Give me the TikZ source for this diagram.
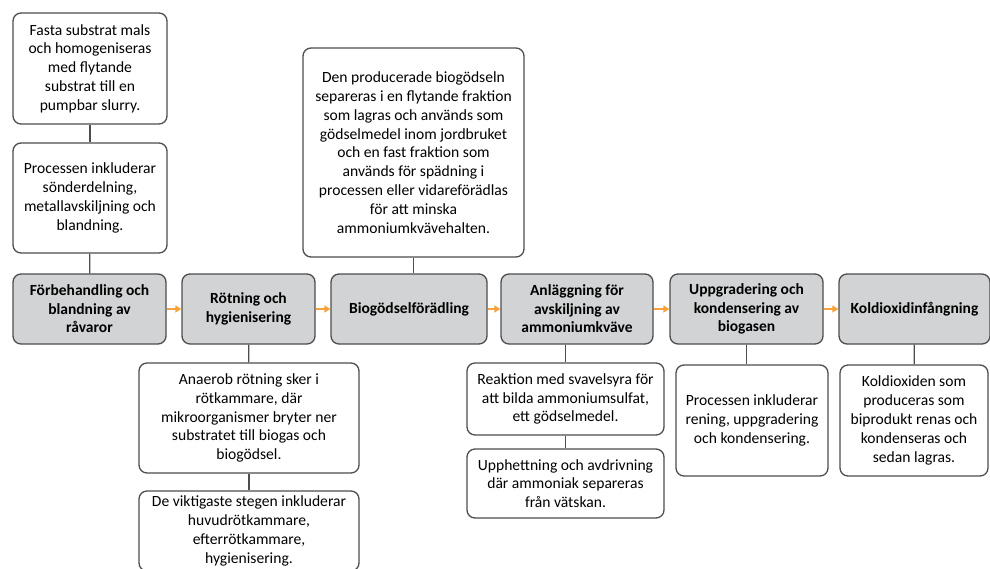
\documentclass[tikz,border=0pt]{standalone}
\usepackage{fontspec}
\setmainfont{Carlito}
\usetikzlibrary{arrows.meta}
\definecolor{stagegray}{HTML}{D1D3D4}
\definecolor{boxline}{HTML}{4D4D4F}
\definecolor{flowline}{HTML}{F7A23B}
\begin{document}
\begin{tikzpicture}[
        x=1pt, y=-1pt,
        stage/.style={rectangle, draw=boxline, line width=1.3pt, fill=stagegray, rounded corners=8pt, align=center, inner sep=0pt, font=\bfseries\fontsize{15.5}{18.6}\selectfont},
        note/.style={rectangle, draw=boxline, line width=1.3pt, fill=white, rounded corners=8pt, align=center, inner sep=0pt, font=\fontsize{15.6}{18.8}\selectfont},
        link/.style={draw=boxline, line width=1.3pt},
        flow/.style={draw=flowline, line width=1.3pt, -{Triangle[length=6pt,width=7pt]}}
    ]
        \useasboundingbox (0,0) rectangle (990,568);

        % Main chain
        \node[stage, minimum width=153, minimum height=70] (main_pre) at (89.5,309) {Förbehandling och\\blandning av\\råvaror};
        \node[stage, minimum width=133, minimum height=70] (main_rot) at (248.5,309) {Rötning och\\hygienisering};
        \node[stage, minimum width=156, minimum height=70] (main_bio) at (409,309) {Biogödselförädling};
        \node[stage, minimum width=152, minimum height=70] (main_amm) at (577,309) {Anläggning för\\avskiljning av\\ammoniumkväve};
        \node[stage, minimum width=153, minimum height=70] (main_upp) at (746.5,309) {Uppgradering och\\kondensering av\\biogasen};
        \node[stage, minimum width=151, minimum height=70] (main_co2) at (914.5,309) {Koldioxidinfångning};
        \draw[flow] (main_pre) -- (main_rot);
        \draw[flow] (main_rot) -- (main_bio);
        \draw[flow] (main_bio) -- (main_amm);
        \draw[flow] (main_amm) -- (main_upp);
        \draw[flow] (main_upp) -- (main_co2);

        % Notes above
        \node[note, minimum width=154, minimum height=111] (pre_note1) at (90,68.5) {Fasta substrat mals\\och homogeniseras\\med flytande\\substrat till en\\pumpbar slurry.};
        \node[note, minimum width=154, minimum height=110] (pre_note2) at (90,198) {Processen inkluderar\\sönderdelning,\\metallavskiljning och\\blandning.};
        \node[note, minimum width=221, minimum height=209] (bio_note) at (413.5,152.5) {Den producerade biogödseln\\separeras i en flytande fraktion\\som lagras och används som\\gödselmedel inom jordbruket\\och en fast fraktion som\\används för spädning i\\processen eller vidareförädlas\\för att minska\\ammoniumkvävehalten.};
        \draw[link] (pre_note1) -- (pre_note2);
        \draw[link] (pre_note2) -- (main_pre);
        \draw[link] (bio_note.south) -- (bio_note.south |- main_bio.north);

        % Notes below
        \node[note, minimum width=220, minimum height=110] (rot_note1) at (249,418) {Anaerob rötning sker i\\rötkammare, där\\mikroorganismer bryter ner\\substratet till biogas och\\biogödsel.};
        \node[note, minimum width=220, minimum height=80] (rot_note2) at (249,531) {De viktigaste stegen inkluderar\\huvudrötkammare,\\efterrötkammare,\\hygienisering.};
        \node[note, minimum width=197, minimum height=72] (amm_note1) at (565.5,399) {Reaktion med svavelsyra för\\att bilda ammoniumsulfat,\\ett gödselmedel.};
        \node[note, minimum width=197, minimum height=69] (amm_note2) at (565.5,483.5) {Upphettning och avdrivning\\där ammoniak separeras\\från vätskan.};
        \node[note, minimum width=152, minimum height=111] (upp_note) at (752,420.5) {Processen inkluderar\\rening, uppgradering\\och kondensering.};
        \node[note, minimum width=148, minimum height=111] (co2_note) at (914,420.5) {Koldioxiden som\\produceras som\\biprodukt renas och\\kondenseras och\\sedan lagras.};
        \draw[link] (main_rot) -- (rot_note1);
        \draw[link] (rot_note1) -- (rot_note2);
        \draw[link] (amm_note1.north) -- (amm_note1.north |- main_amm.south);
        \draw[link] (amm_note1) -- (amm_note2);
        \draw[link] (main_upp.south) -- (main_upp.south |- upp_note.north);
        \draw[link] (main_co2) -- (co2_note);

    \end{tikzpicture}
\end{document}
